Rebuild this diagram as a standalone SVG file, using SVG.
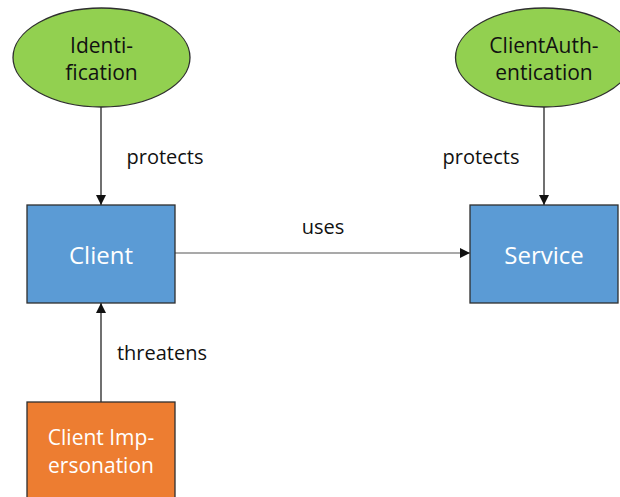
<svg xmlns="http://www.w3.org/2000/svg" width="620" height="497" viewBox="0 0 620 497">
  <style>
    .node { stroke: #2f2f2f; stroke-width: 1.3; }
    .goal { fill: #92d050; }
    .asset { fill: #5b9bd5; }
    .threat { fill: #ed7d31; }
    .lbl { font-family: "Open Sans", "Liberation Sans", sans-serif; font-size: 20px; text-anchor: middle; }
    .mid { font-size: 21px; }
    .big { font-size: 24px; }
    .dark { fill: #111; }
    .light { fill: #fff; }
    .edge { stroke: #111; stroke-width: 1.2; fill: none; }
  </style>
  <defs>
    <marker id="arrow" viewBox="0 0 10 10" refX="10" refY="5" markerWidth="10" markerHeight="10" markerUnits="userSpaceOnUse" orient="auto">
      <path d="M0,0 L10,5 L0,10 z" fill="#111"/>
    </marker>
  </defs>

  <g id="edges">
    <line class="edge" x1="101" y1="107" x2="101" y2="205" marker-end="url(#arrow)"/>
    <text class="lbl dark" x="165" y="164">protects</text>
    <line class="edge" x1="544" y1="107" x2="544" y2="205" marker-end="url(#arrow)"/>
    <text class="lbl dark" x="481" y="164">protects</text>
    <line class="edge" x1="175" y1="253" x2="470" y2="253" style="stroke:#555" marker-end="url(#arrow)"/>
    <text class="lbl dark" x="323" y="234">uses</text>
    <line class="edge" x1="101" y1="402" x2="101" y2="303" marker-end="url(#arrow)"/>
    <text class="lbl dark" x="162" y="360">threatens</text>
  </g>

  <g id="identification">
    <ellipse class="node goal" cx="101.5" cy="57.5" rx="88.5" ry="49.5"/>
    <text class="lbl mid dark" x="101.5" y="53">Identi-</text>
    <text class="lbl mid dark" x="101.5" y="80">fication</text>
  </g>

  <g id="client-authentication">
    <ellipse class="node goal" cx="544" cy="57.5" rx="88.5" ry="49.5"/>
    <text class="lbl mid dark" x="544" y="53">ClientAuth-</text>
    <text class="lbl mid dark" x="544" y="80">entication</text>
  </g>

  <g id="client">
    <rect class="node asset" x="27" y="205" width="148" height="98"/>
    <text class="lbl big light" x="101" y="264">Client</text>
  </g>

  <g id="service">
    <rect class="node asset" x="470" y="205" width="148" height="98"/>
    <text class="lbl big light" x="544" y="264">Service</text>
  </g>

  <g id="client-impersonation">
    <rect class="node threat" x="27" y="402" width="148" height="100"/>
    <text class="lbl mid light" x="101" y="445">Client Imp-</text>
    <text class="lbl mid light" x="101" y="473">ersonation</text>
  </g>
</svg>
